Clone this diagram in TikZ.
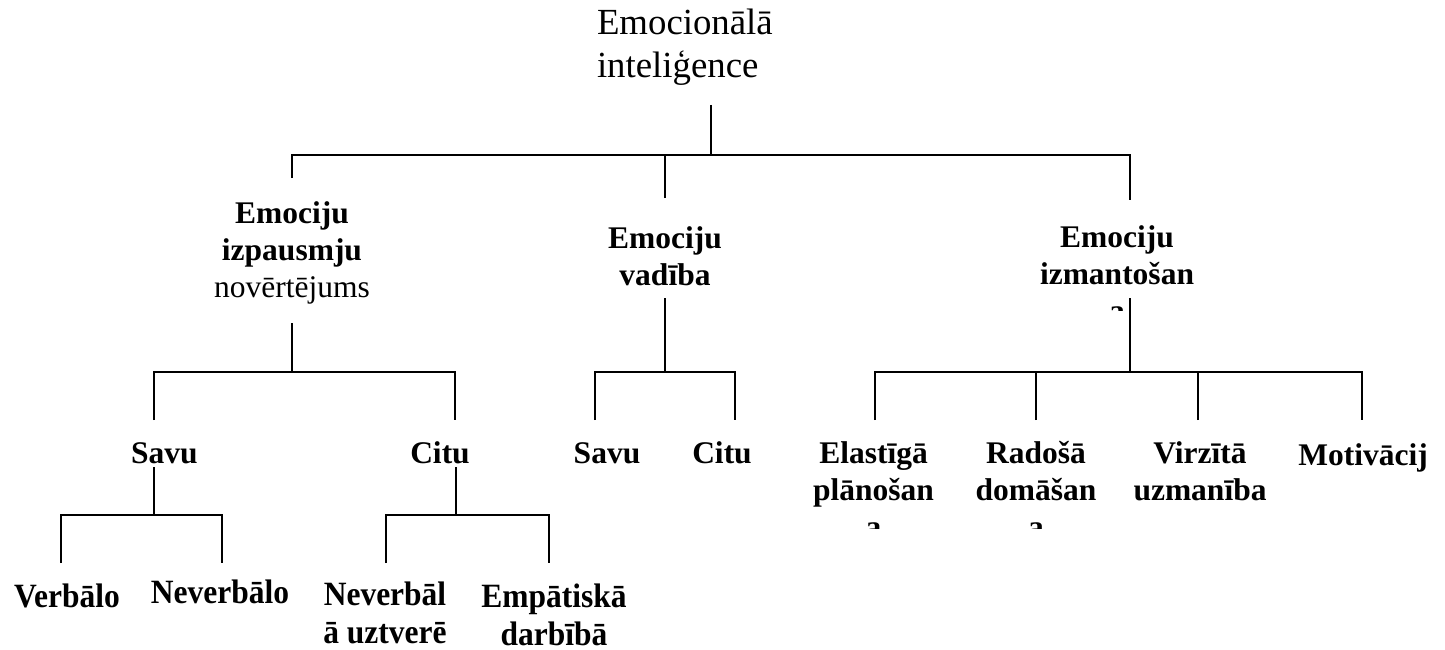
\documentclass[tikz,border=0pt]{standalone}
\usepackage{fontspec}
\setmainfont{Liberation Serif}
% one-column tables whose baseline is the first line
\newcommand\ttab[1]{\begin{tabular}[t]{@{}c@{}}#1\end{tabular}}
\newcommand\ltab[1]{\begin{tabular}[t]{@{}l@{}}#1\end{tabular}}
\newcommand\mainsize{\fontsize{36.8}{43}\selectfont}
\newcommand\lblsize{\fontsize{31.5}{37}\selectfont}
\newcommand\leafsize{\fontsize{31.5}{35.2}\selectfont}
\newcommand\tallbox[1]{\scalebox{1}[1.08]{#1}}

\begin{document}
\begin{tikzpicture}[x=1pt,y=-1pt,
  lbl/.style={inner sep=0pt, outer sep=0pt, anchor=base, font=\lblsize},
  leaf/.style={inner sep=0pt, outer sep=0pt, anchor=base, font=\leafsize},
  link/.style={line width=1.6pt, line cap=butt, line join=miter}]
\useasboundingbox (0,0) rectangle (1445,650);

% root
\node[inner sep=0pt, outer sep=0pt, anchor=base west, font=\mainsize] (ei) at (597,35)
  {\ltab{Emocionālā\\inteliģence}};

% second level
\node[lbl] (izp) at (292,223) {\ttab{\textbf{Emociju}\\\textbf{izpausmju}\\novērtējums}};
\node[lbl] (vad) at (665,248) {\ttab{\textbf{Emociju}\\\textbf{vadība}}};
\begin{scope}
  \clip (1000,200) rectangle (1250,310.5);
  \node[lbl] (izm) at (1117,247) {\ttab{\textbf{Emociju}\\\textbf{izmantošan}\\\textbf{a}}};
\end{scope}

% third level
\node[lbl] (s1) at (164.5,463) {\textbf{Savu}};
\node[lbl] (c1) at (440,463) {\textbf{Citu}};
\node[lbl] (s2) at (607,463) {\textbf{Savu}};
\node[lbl] (c2) at (722,463) {\textbf{Citu}};
\begin{scope}
  \clip (780,420) rectangle (1120,528);
  \node[lbl] (ela) at (873.5,463) {\ttab{\textbf{Elastīgā}\\\textbf{plānošan}\\\textbf{a}}};
  \node[lbl] (rad) at (1036,463) {\ttab{\textbf{Radošā}\\\textbf{domāšan}\\\textbf{a}}};
\end{scope}
\node[lbl] (vir) at (1200,463) {\ttab{\textbf{Virzītā}\\\textbf{uzmanība}}};
\node[lbl] (mot) at (1363,465) {\textbf{Motivācij}};

% fourth level
\node[leaf] (ver) at (67,607) {\tallbox{\textbf{Verbālo}}};
\node[leaf] (nev) at (220,603) {\tallbox{\textbf{Neverbālo}}};
\node[leaf] (nvu) at (385,605) {\tallbox{\ttab{\textbf{Neverbāl}\\\textbf{ā uztverē}}}};
\node[leaf] (emp) at (554,607) {\tallbox{\ttab{\textbf{Empātiskā}\\\textbf{darbībā}}}};

% connector end points
\coordinate (ei-s) at (711,105);
\coordinate (ei-j) at (711,155);
\coordinate (izp-n) at (292,178);
\coordinate (vad-n) at (665,198);
\coordinate (izm-n) at (1130,200);

\coordinate (izp-s) at (292,323);
\coordinate (izp-j) at (292,372);
\coordinate (s1-n) at (154,420);
\coordinate (c1-n) at (455,420);

\coordinate (vad-s) at (665,298);
\coordinate (vad-j) at (665,372);
\coordinate (s2-n) at (595,420);
\coordinate (c2-n) at (735,420);

\coordinate (izm-s) at (1130,298);
\coordinate (izm-j) at (1130,372);
\coordinate (ela-n) at (875,420);
\coordinate (rad-n) at (1036,420);
\coordinate (vir-n) at (1198,420);
\coordinate (mot-n) at (1362,420);

\coordinate (s1-s) at (154,467);
\coordinate (s1-j) at (154,515);
\coordinate (ver-n) at (61,563);
\coordinate (nev-n) at (222,563);

\coordinate (c1-s) at (456,467);
\coordinate (c1-j) at (456,515);
\coordinate (nvu-n) at (386,563);
\coordinate (emp-n) at (549,563);

% root branches
\draw[link] (ei-s) -- (ei-j);
\draw[link] (izp-n) -- (izp-n |- ei-j) -- (izm-n |- ei-j) -- (izm-n);
\draw[link] (vad-n) -- (vad-n |- ei-j);

% expression assessment
\draw[link] (izp-s) -- (izp-j);
\draw[link] (s1-n) -- (s1-n |- izp-j) -- (c1-n |- izp-j) -- (c1-n);

% management
\draw[link] (vad-s) -- (vad-j);
\draw[link] (s2-n) -- (s2-n |- vad-j) -- (c2-n |- vad-j) -- (c2-n);

% use of emotions
\draw[link] (izm-s) -- (izm-j);
\draw[link] (ela-n) -- (ela-n |- izm-j) -- (mot-n |- izm-j) -- (mot-n);
\draw[link] (rad-n) -- (rad-n |- izm-j);
\draw[link] (vir-n) -- (vir-n |- izm-j);

% own
\draw[link] (s1-s) -- (s1-j);
\draw[link] (ver-n) -- (ver-n |- s1-j) -- (nev-n |- s1-j) -- (nev-n);

% others
\draw[link] (c1-s) -- (c1-j);
\draw[link] (nvu-n) -- (nvu-n |- c1-j) -- (emp-n |- c1-j) -- (emp-n);
\end{tikzpicture}
\end{document}
